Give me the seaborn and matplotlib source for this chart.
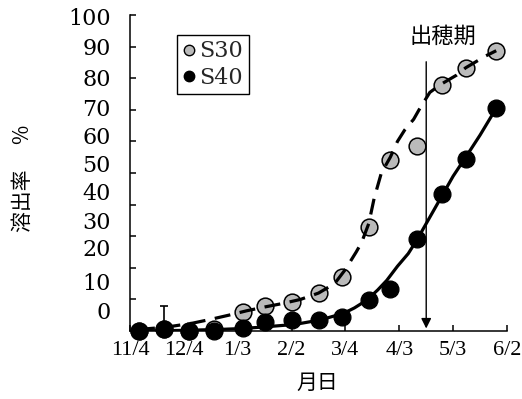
import matplotlib
matplotlib.use("Agg")
import matplotlib.pyplot as plt
import seaborn as sns
from matplotlib.lines import Line2D

# x axis: days counted from 11/4 (ticks every 30 days)
tick_days = [0, 30, 60, 90, 120, 150, 180, 210]
tick_labels = ["11/4", "12/4", "1/3", "2/2", "3/4", "4/3", "5/3", "6/2"]
y_tick_values = [0, 10, 20, 30, 40, 50, 60, 70, 80, 90, 100]

# sampling dates and measured values (%)
sample_days = [5, 19, 33, 47, 63, 75, 90, 105, 118, 133, 145, 160, 174, 187, 204]
s30 = [0, 0.5, 0, 0.5, 6, 8, 9.3, 12, 17, 33, 54, 58.6, 78, 83.3, 88.7]
s40 = [0, 0.5, 0, 0, 1, 2.9, 3.5, 3.5, 4.3, 9.8, 13.2, 29.1, 43.4, 54.4, 70.6]
s40_err_up = [0, 7.5, 0, 0, 0, 0, 0, 0, 0, 0, 0, 0, 0, 0, 0]

# fitted curves
s30_fit_days = [5, 20, 35, 45, 55, 65, 75, 85, 95, 105, 114, 120, 126, 129, 133,
                136, 140, 145, 149, 153, 158, 161, 167, 173, 182, 187, 198, 204]
s30_fit = [0.5, 1.2, 2.5, 3.7, 5.0, 6.4, 7.6, 8.7, 10, 12, 15, 19.5, 25, 28, 34,
           42, 50, 55, 60, 63.6, 67, 70, 75.5, 78, 81, 83.3, 87, 88.7]
s40_fit_days = [5, 30, 50, 63, 75, 90, 95, 106, 119, 125, 132, 138, 143, 149,
                155, 160, 167, 174, 180, 187, 195, 204]
s40_fit = [0, 0.2, 0.5, 0.8, 1.3, 2.0, 2.4, 3.5, 5.6, 7.3, 9.8, 13, 16, 20.5,
           24.5, 29, 36, 43, 49, 55, 62, 70.5]

HEADING_DAY = 165  # 出穂期

GRAY = "#bababa"

sns.set_theme(style="ticks")
plt.rcParams["font.family"] = ["DejaVu Serif", "Noto Sans CJK JP"]

fig = plt.figure(figsize=(5.22, 3.99), dpi=100)
ax = fig.add_axes([130 / 522, 1 - 331 / 399, 377 / 522, 316 / 399])

# S30: gray markers, dashed fit drawn over them
sns.scatterplot(x=sample_days, y=s30, color=GRAY, edgecolor="black", linewidth=1.1,
                s=145, zorder=3, clip_on=False, legend=False, ax=ax)
sns.lineplot(x=s30_fit_days, y=s30_fit, color="black", lw=2.3,
             linestyle=(0, (5, 3)), zorder=4, ax=ax)

# S40: black markers and solid fit
err_days = [d for d, e in zip(sample_days, s40_err_up) if e > 0]
err_vals = [v for v, e in zip(s40, s40_err_up) if e > 0]
err_up = [e for e in s40_err_up if e > 0]
ax.errorbar(err_days, err_vals, yerr=[[0] * len(err_up), err_up], fmt="none",
            ecolor="black", elinewidth=1.2, capsize=3.2, capthick=1.2, zorder=4.5)
sns.scatterplot(x=sample_days, y=s40, color="black", edgecolor="black", linewidth=1.0,
                s=145, zorder=5, clip_on=False, legend=False, ax=ax)
sns.lineplot(x=s40_fit_days, y=s40_fit, color="black", lw=2.3, zorder=6, ax=ax)

ax.set_xlim(0, 210)
ax.set_ylim(0, 100)
sns.despine(ax=ax)
for side in ["left", "bottom"]:
    ax.spines[side].set_color("black")
    ax.spines[side].set_linewidth(1.1)

ax.set_xticks(tick_days)
ax.set_xticklabels(tick_labels, fontfamily="Liberation Serif", fontsize=16)
ax.tick_params(axis="x", direction="in", length=4, width=1.1, pad=7, colors="black")

# tick marks are evenly spaced, the printed numbers drift a little (as in the scan)
YLABEL_AT = [6.6, 15.8, 26.3, 35.1, 44.1, 53.1, 62.0, 70.8, 80.3, 90, 99.5]
ax.yaxis.remove_overlapping_locs = False
ax.set_yticks(y_tick_values)
ax.tick_params(axis="y", which="major", direction="in", length=4, width=1.1,
               labelleft=False, colors="black")
ax.set_yticks(YLABEL_AT, minor=True)
ax.set_yticklabels([str(v) for v in y_tick_values], minor=True, fontsize=16)
ax.tick_params(axis="y", which="minor", length=0, pad=14, colors="black")

ax.set_ylabel("溶出率　 %", fontfamily="Noto Sans CJK JP", fontsize=15, color="black")
ax.yaxis.set_label_coords(-0.255, 0.484)
ax.set_xlabel("月日", fontfamily="Noto Sans CJK JP", fontsize=15, color="black")
ax.xaxis.set_label_coords(0.496, -0.13)

ax.annotate("", xy=(HEADING_DAY, 0.8), xytext=(HEADING_DAY, 85.2),
            arrowprops=dict(arrowstyle="-|>,head_length=0.4,head_width=0.2",
                            color="black", lw=1.0, shrinkA=0, shrinkB=0,
                            mutation_scale=15))
ax.text(HEADING_DAY + 9.4, 93.4, "出穂期", ha="center", va="center", fontsize=16,
        fontfamily="Noto Sans CJK JP", color="black")

handles = [
    Line2D([], [], ls="none", marker="o", markersize=7.5, markerfacecolor=GRAY,
           markeredgecolor="black", markeredgewidth=1.0),
    Line2D([], [], ls="none", marker="o", markersize=7.5, markerfacecolor="black",
           markeredgecolor="black", markeredgewidth=1.0),
]
leg = ax.legend(handles, ["S30", "S40"], loc="upper left", bbox_to_anchor=(0.125, 0.937),
                borderaxespad=0, frameon=True, fancybox=False, edgecolor="black",
                framealpha=1, fontsize=16, handlelength=0.6, handletextpad=0.15,
                labelspacing=0.2, borderpad=0.25)
leg.get_frame().set_linewidth(1.0)

fig.savefig("out.png", dpi=100)
